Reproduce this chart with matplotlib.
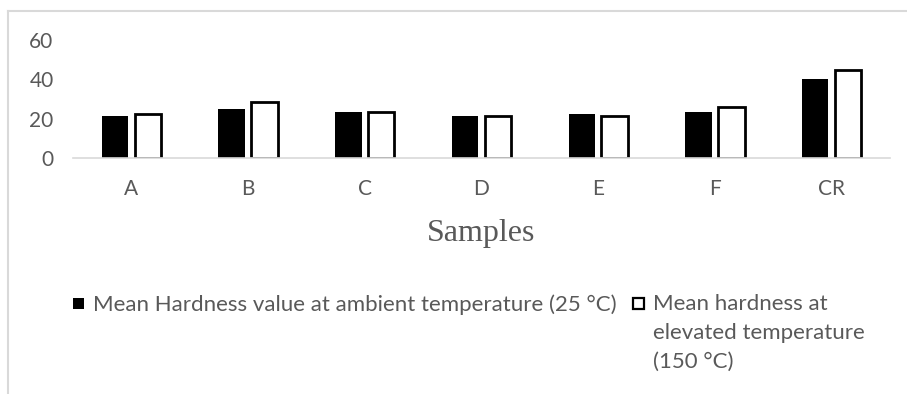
import matplotlib.pyplot as plt
from matplotlib.lines import Line2D
from matplotlib.patches import Rectangle
import numpy as np

samples = ['A', 'B', 'C', 'D', 'E', 'F', 'CR']
hardness_ambient = [21.6, 25.0, 23.6, 21.6, 22.2, 23.6, 40.0]
hardness_elevated = [22.6, 28.6, 23.4, 21.3, 21.2, 25.7, 44.9]
label_ambient = 'Mean Hardness value at ambient temperature (25 \u00b0C)'
label_elevated = 'Mean hardness at\nelevated temperature\n(150 \u00b0C)'
yticks = [0, 20, 40, 60]

GREY = '#595959'
W, H = 907, 394
plt.rcParams['font.family'] = ['Lato', 'DejaVu Sans']

fig = plt.figure(figsize=(W/100, H/100), dpi=100)
ax = fig.add_axes([73/W, 1-158/H, (890-73)/W, (158-40)/H])

x = np.arange(len(samples))
w = 0.227
off = 0.141
b1 = ax.bar(x - off, hardness_ambient, w, color='black', edgecolor='black', linewidth=0)
b2 = ax.bar(x + off, hardness_elevated, w, color='white', edgecolor='black', linewidth=2)

ax.set_xlim(-0.5, len(samples) - 0.5)
ax.set_ylim(0, 60)
ax.set_yticks(yticks)
ax.set_xticks(x)
ax.set_xticklabels(samples)
for s in ['top', 'right', 'left']:
    ax.spines[s].set_visible(False)
ax.spines['bottom'].set_color('#d9d9d9')
ax.spines['bottom'].set_linewidth(1.2)
ax.tick_params(axis='both', length=0, colors=GREY, labelsize=15)
ax.tick_params(axis='y', pad=14)
ax.tick_params(axis='x', pad=15)

ax.set_xlabel('Samples', family='Liberation Serif', fontsize=23, color=GREY)
ax.xaxis.label.set_va('baseline')
ax.xaxis.set_label_coords(0.5, (158-241)/118)

# legend drawn by hand so the square sits on the first text line
def px(xp, yp):
    return xp / W, 1 - yp / H

fig.add_artist(Rectangle(px(73, 309), 11/W, 11/H, transform=fig.transFigure,
                         facecolor='black', edgecolor='none'))
fig.add_artist(Rectangle(px(633, 309), 11/W, 11/H, transform=fig.transFigure,
                         facecolor='white', edgecolor='black', linewidth=1.6))
fig.text(*px(93, 311), label_ambient, fontsize=16, color=GREY, va='baseline')
fig.text(*px(653, 294), label_elevated, fontsize=16, color=GREY, va='top',
         linespacing=1.56)

# outer chart border (top and left visible in the crop)
fig.add_artist(Line2D([8/W, 1], [1-11/H, 1-11/H], color='#d9d9d9', lw=1.5))
fig.add_artist(Line2D([8/W, 8/W], [0, 1-11/H], color='#d9d9d9', lw=1.5))

fig.savefig('out.png', dpi=100)
